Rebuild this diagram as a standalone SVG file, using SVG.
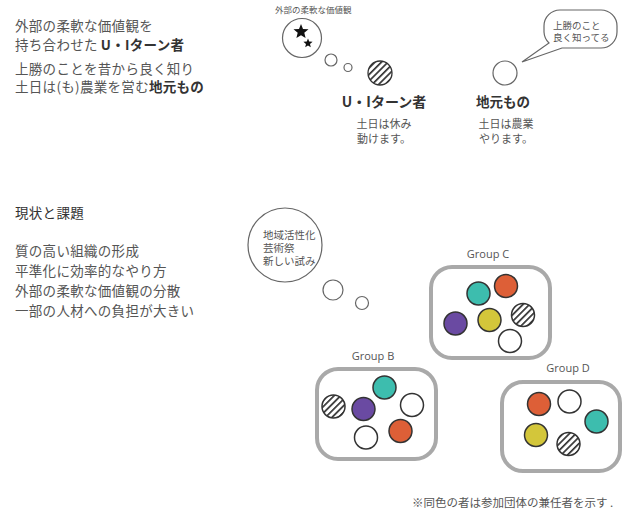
<svg xmlns="http://www.w3.org/2000/svg" width="625" height="515" viewBox="0 0 625 515">
<defs>
<pattern id="hatch" patternUnits="userSpaceOnUse" width="4.6" height="4.6" patternTransform="rotate(45)">
<rect width="4.6" height="4.6" fill="#fff"/>
<rect x="0" y="0" width="1.7" height="4.6" fill="#333"/>
</pattern>
</defs>
<style>
.jp{font-family:"Noto Sans CJK JP","Noto Sans",sans-serif;fill:#555}
.big{font-size:13.5px;letter-spacing:0.3px}
.b{font-weight:bold;fill:#333}
.sm{font-size:11px}
.tb{font-size:10.5px}
.grp{font-family:"Open Sans","Liberation Sans",sans-serif;font-size:11px;fill:#555;text-anchor:middle}
.thin{fill:#fff;stroke:#666;stroke-width:1.2}
.box{fill:none;stroke:#a9a9a9;stroke-width:4}
.m{stroke:#333;stroke-width:1.5}
.teal{fill:#3dbdae}
.orange{fill:#dd5f37}
.purple{fill:#6a4aa2}
.yellow{fill:#d3c63a}
.white{fill:#fff}
.hatch{fill:url(#hatch)}
.mid{text-anchor:middle}
</style>
<rect width="625" height="515" fill="#fff"/>

<g id="intro-text" class="jp big">
<text x="15" y="31">外部の柔軟な価値観を</text>
<text x="15" y="49.5">持ち合わせた<tspan class="b" dx="3">U・Iターン者</tspan></text>
<text x="15" y="74">上勝のことを昔から良く知り</text>
<text x="15" y="92">土日は(も)農業を営む<tspan class="b">地元もの</tspan></text>
</g>

<g id="ui-thought">
<text class="jp" x="275" y="13" style="font-size:8.5px">外部の柔軟な価値観</text>
<circle class="thin" cx="302" cy="38" r="19.5"/>
<polygon fill="#111" points="301,24 303,29 308.5,29.3 304.3,32.8 305.6,38 301,35.2 296.4,38 297.7,32.8 293.5,29.3 299,29"/>
<polygon fill="#111" points="308,38.5 309.2,41.6 312.6,41.8 310,44 310.8,47.3 308,45.5 305.2,47.3 306,44 303.4,41.8 306.8,41.6"/>
<circle class="thin" cx="331" cy="60" r="6"/>
<circle class="thin" cx="348" cy="67.5" r="4"/>
</g>

<g id="ui-turn">
<circle class="hatch" cx="380" cy="73" r="12" stroke="#333" stroke-width="1.3"/>
<text class="jp b mid" x="384" y="107" style="font-size:14px">U・Iターン者</text>
<text class="jp mid sm" x="384" y="128">土日は休み<tspan x="384" dy="15">動けます。</tspan></text>
</g>

<g id="jimoto">
<circle class="thin" cx="505" cy="73" r="12" stroke="#444"/>
<text class="jp b mid" x="503" y="107" style="font-size:13.5px">地元もの</text>
<text class="jp mid sm" x="506" y="128">土日は農業<tspan x="506" dy="15">やります。</tspan></text>
</g>

<g id="jimoto-speech">
<path class="thin" d="M560,10 H601 A16,16 0 0 1 617,26 V32 A16,16 0 0 1 601,48 H562 L522,62 L549,43 A16,16 0 0 1 544,32 V26 A16,16 0 0 1 560,10 Z"/>
<text class="jp" x="553" y="29" style="font-size:9.5px">上勝のこと<tspan x="553" dy="12">良く知ってる</tspan></text>
</g>

<g id="issues-text" class="jp big">
<text x="15" y="217.5" style="fill:#333">現状と課題</text>
<text x="15" y="256">質の高い組織の形成</text>
<text x="15" y="276">平準化に効率的なやり方</text>
<text x="15" y="296">外部の柔軟な価値観の分散</text>
<text x="15" y="316">一部の人材への負担が大きい</text>
</g>

<g id="group-thought">
<circle class="thin" cx="285" cy="245" r="37"/>
<text class="jp tb" x="263" y="239">地域活性化<tspan x="263" dy="13">芸術祭</tspan><tspan x="263" dy="13">新しい試み</tspan></text>
<circle class="thin" cx="333" cy="290" r="10"/>
<circle class="thin" cx="362" cy="303" r="6.5"/>
</g>

<g id="connectors"/>

<g id="group-c">
<text class="grp" x="488" y="258">Group C</text>
<rect class="box" x="431" y="267" width="119" height="91" rx="21"/>
<circle class="m teal" cx="478.5" cy="293.5" r="11.5"/>
<circle class="m orange" cx="506" cy="286" r="11.5"/>
<circle class="m purple" cx="455.5" cy="323.5" r="11.5"/>
<circle class="m yellow" cx="489.5" cy="320" r="11.5"/>
<circle class="m hatch" cx="523" cy="315" r="11.5"/>
<circle class="m white" cx="510" cy="341" r="11.5"/>
</g>

<g id="group-b">
<text class="grp" x="373" y="360">Group B</text>
<rect class="box" x="317" y="369" width="119" height="90" rx="21"/>
<circle class="m teal" cx="384.5" cy="387.5" r="11.5"/>
<circle class="m hatch" cx="333.5" cy="406.5" r="11.5"/>
<circle class="m purple" cx="363.5" cy="409" r="11.5"/>
<circle class="m white" cx="412" cy="405" r="11.5"/>
<circle class="m white" cx="366" cy="437.5" r="11.5"/>
<circle class="m orange" cx="400.5" cy="431" r="11.5"/>
</g>

<g id="group-d">
<text class="grp" x="568" y="372">Group D</text>
<rect class="box" x="502" y="382" width="118" height="89" rx="21"/>
<circle class="m orange" cx="539" cy="404" r="11.5"/>
<circle class="m white" cx="569.5" cy="401.5" r="11.5"/>
<circle class="m teal" cx="596.5" cy="421.5" r="11.5"/>
<circle class="m yellow" cx="536" cy="435" r="11.5"/>
<circle class="m hatch" cx="568.5" cy="444" r="11.5"/>
</g>

<g id="footnote">
<text class="jp" x="412" y="507" style="font-size:11.5px">※同色の者は参加団体の兼任者を示す .</text>
</g>
</svg>
